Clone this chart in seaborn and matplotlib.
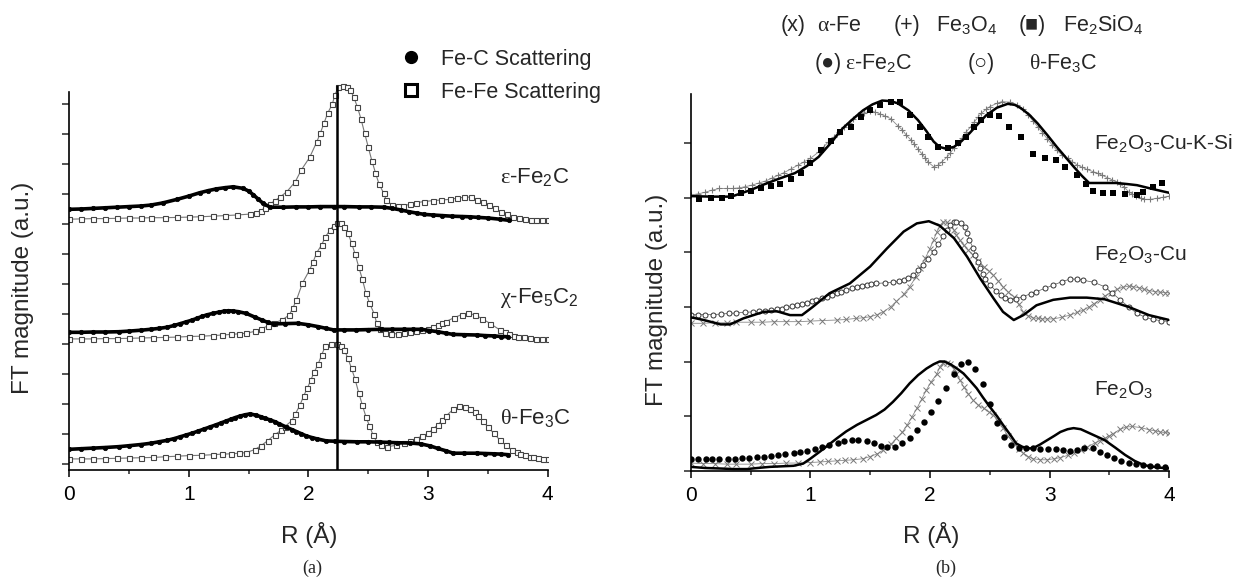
import numpy as np
import matplotlib
matplotlib.use('Agg')
import matplotlib.pyplot as plt
from matplotlib.lines import Line2D
import seaborn as sns

# ---- (a) reference carbides: (R, FT magnitude) ----
eps_fec = [(0, 8.49), (0.1, 8.5), (0.2, 8.52), (0.3, 8.54), (0.4, 8.56), (0.5, 8.58), (0.6, 8.6), (0.68, 8.63),
           (0.78, 8.7), (0.9, 8.82), (1.0, 8.93), (1.09, 9.04), (1.16, 9.11), (1.23, 9.17), (1.3, 9.21),
           (1.37, 9.24), (1.45, 9.19), (1.5, 9.1), (1.54, 8.97), (1.58, 8.83), (1.62, 8.69), (1.68, 8.56),
           (1.79, 8.56), (1.9, 8.57), (2.0, 8.57), (2.1, 8.58), (2.21, 8.58), (2.3, 8.58), (2.42, 8.57),
           (2.52, 8.57), (2.63, 8.56), (2.7, 8.52), (2.77, 8.47), (2.84, 8.41), (2.91, 8.36), (2.97, 8.32),
           (3.04, 8.3), (3.12, 8.28), (3.2, 8.26), (3.28, 8.25), (3.35, 8.24), (3.42, 8.22), (3.5, 8.2),
           (3.6, 8.16), (3.68, 8.12)]
eps_fefe = [(0, 8.16), (0.1, 8.17), (0.2, 8.18), (0.3, 8.18), (0.4, 8.19), (0.5, 8.2), (0.6, 8.2), (0.68, 8.21),
            (0.8, 8.21), (0.9, 8.22), (1.0, 8.23), (1.09, 8.24), (1.2, 8.26), (1.3, 8.28), (1.4, 8.3),
            (1.51, 8.33), (1.56, 8.38), (1.6, 8.44), (1.64, 8.55), (1.68, 8.67), (1.72, 8.78), (1.76, 8.89),
            (1.82, 9.08), (1.89, 9.41), (1.94, 9.8), (2.01, 10.22), (2.07, 10.74), (2.1, 11.04), (2.13, 11.36),
            (2.16, 11.69), (2.2, 12.0), (2.22, 12.3), (2.25, 12.56), (2.29, 12.6), (2.32, 12.56), (2.35, 12.47),
            (2.38, 12.22), (2.41, 11.89), (2.44, 11.49), (2.47, 11.02), (2.5, 10.56), (2.53, 10.11),
            (2.56, 9.71), (2.59, 9.33), (2.63, 9.02), (2.65, 8.8), (2.7, 8.63), (2.75, 8.61), (2.79, 8.6),
            (2.85, 8.66), (2.9, 8.71), (2.97, 8.75), (3.04, 8.78), (3.11, 8.8), (3.18, 8.82), (3.24, 8.86),
            (3.3, 8.89), (3.36, 8.9), (3.41, 8.8), (3.46, 8.72), (3.51, 8.63), (3.56, 8.52), (3.61, 8.41),
            (3.66, 8.32), (3.71, 8.24), (3.76, 8.2), (3.81, 8.16), (3.86, 8.15), (3.9, 8.15), (3.95, 8.15),
            (4.0, 8.15)]
chi_fec = [(0, 4.39), (0.1, 4.39), (0.2, 4.4), (0.3, 4.4), (0.42, 4.41), (0.5, 4.43), (0.6, 4.46), (0.68, 4.49),
           (0.75, 4.52), (0.82, 4.56), (0.88, 4.62), (0.93, 4.68), (0.98, 4.74), (1.03, 4.8), (1.07, 4.86),
           (1.11, 4.92), (1.15, 4.97), (1.2, 5.02), (1.25, 5.06), (1.29, 5.09), (1.33, 5.11), (1.37, 5.1),
           (1.41, 5.08), (1.48, 5.02), (1.55, 4.9), (1.61, 4.8), (1.66, 4.72), (1.71, 4.67), (1.8, 4.68),
           (1.91, 4.69), (2.0, 4.64), (2.08, 4.58), (2.15, 4.52), (2.21, 4.47), (2.3, 4.47), (2.4, 4.47),
           (2.5, 4.48), (2.61, 4.49), (2.7, 4.49), (2.8, 4.49), (2.87, 4.49), (2.94, 4.49), (3.01, 4.45),
           (3.08, 4.41), (3.15, 4.36), (3.21, 4.32), (3.3, 4.31), (3.41, 4.3), (3.48, 4.28), (3.55, 4.27),
           (3.61, 4.25), (3.67, 4.24)]
chi_fefe = [(0, 4.17), (0.1, 4.17), (0.2, 4.17), (0.3, 4.18), (0.4, 4.18), (0.5, 4.19), (0.6, 4.2), (0.7, 4.21),
            (0.8, 4.22), (0.9, 4.23), (1.0, 4.25), (1.1, 4.26), (1.2, 4.28), (1.28, 4.3), (1.35, 4.32),
            (1.42, 4.34), (1.48, 4.36), (1.55, 4.42), (1.6, 4.5), (1.66, 4.6), (1.71, 4.7), (1.78, 4.8),
            (1.84, 4.97), (1.87, 5.2), (1.9, 5.47), (1.95, 6.03), (2.01, 6.47), (2.04, 6.75), (2.07, 7.05),
            (2.11, 7.3), (2.14, 7.56), (2.18, 7.8), (2.21, 7.95), (2.24, 8.04), (2.27, 8.03), (2.3, 7.9),
            (2.33, 7.7), (2.36, 7.37), (2.39, 7.0), (2.42, 6.57), (2.45, 6.17), (2.48, 5.7), (2.51, 5.37),
            (2.55, 5.0), (2.57, 4.7), (2.6, 4.5), (2.64, 4.38), (2.69, 4.33), (2.75, 4.35), (2.8, 4.37),
            (2.85, 4.4), (2.9, 4.43), (2.95, 4.46), (3.0, 4.5), (3.04, 4.56), (3.08, 4.62), (3.12, 4.69),
            (3.15, 4.75), (3.22, 4.88), (3.28, 4.98), (3.33, 5.03), (3.39, 4.97), (3.45, 4.85), (3.52, 4.68),
            (3.6, 4.47), (3.64, 4.4), (3.68, 4.33), (3.72, 4.28), (3.75, 4.25), (3.8, 4.22), (3.85, 4.2),
            (3.9, 4.18), (3.95, 4.17), (4.0, 4.17)]
theta_fec = [(0, 0.49), (0.1, 0.51), (0.2, 0.53), (0.3, 0.55), (0.42, 0.58), (0.5, 0.61), (0.6, 0.65),
             (0.68, 0.69), (0.75, 0.74), (0.82, 0.79), (0.88, 0.85), (0.93, 0.91), (0.98, 0.97), (1.03, 1.03),
             (1.08, 1.1), (1.13, 1.17), (1.18, 1.24), (1.23, 1.31), (1.27, 1.37), (1.31, 1.43), (1.35, 1.49),
             (1.39, 1.55), (1.43, 1.6), (1.47, 1.64), (1.51, 1.67), (1.56, 1.63), (1.6, 1.58), (1.64, 1.52),
             (1.68, 1.47), (1.72, 1.41), (1.75, 1.35), (1.81, 1.24), (1.86, 1.15), (1.9, 1.08), (1.94, 1.01),
             (1.98, 0.94), (2.03, 0.88), (2.07, 0.84), (2.15, 0.77), (2.22, 0.76), (2.3, 0.75), (2.41, 0.74),
             (2.5, 0.74), (2.6, 0.73), (2.67, 0.72), (2.74, 0.71), (2.85, 0.7), (2.94, 0.67), (3.02, 0.6),
             (3.08, 0.52), (3.15, 0.44), (3.21, 0.36), (3.3, 0.36), (3.41, 0.36), (3.48, 0.35), (3.55, 0.34),
             (3.61, 0.33), (3.67, 0.31)]
theta_fefe = [(0, 0.17), (0.1, 0.17), (0.2, 0.17), (0.3, 0.18), (0.4, 0.19), (0.5, 0.2), (0.6, 0.21),
              (0.7, 0.22), (0.8, 0.24), (0.9, 0.26), (1.0, 0.28), (1.1, 0.29), (1.2, 0.31), (1.28, 0.33),
              (1.35, 0.34), (1.42, 0.36), (1.48, 0.38), (1.55, 0.48), (1.6, 0.6), (1.66, 0.78), (1.72, 0.98),
              (1.77, 1.12), (1.8, 1.24), (1.86, 1.44), (1.89, 1.67), (1.93, 1.97), (1.96, 2.27), (1.99, 2.52),
              (2.02, 2.8), (2.05, 3.08), (2.08, 3.32), (2.11, 3.63), (2.14, 3.92), (2.19, 3.99), (2.24, 4.0),
              (2.27, 3.93), (2.3, 3.8), (2.33, 3.52), (2.36, 3.19), (2.39, 2.82), (2.42, 2.38), (2.45, 1.97),
              (2.48, 1.58), (2.51, 1.27), (2.54, 0.97), (2.57, 0.74), (2.61, 0.64), (2.66, 0.58), (2.73, 0.62),
              (2.8, 0.7), (2.85, 0.77), (2.9, 0.85), (2.95, 0.93), (3.0, 1.02), (3.04, 1.16), (3.08, 1.3),
              (3.12, 1.46), (3.15, 1.6), (3.21, 1.82), (3.26, 1.93), (3.31, 1.9), (3.35, 1.85), (3.39, 1.72),
              (3.42, 1.6), (3.46, 1.42), (3.5, 1.24), (3.55, 1.02), (3.6, 0.8), (3.65, 0.62), (3.7, 0.47),
              (3.74, 0.4), (3.77, 0.35), (3.81, 0.3), (3.85, 0.25), (3.88, 0.22), (3.92, 0.2), (3.96, 0.18),
              (4.0, 0.16)]
fe_fe_marker_r = 2.24
labels_a = [(r'$\varepsilon$-Fe$_2$C', 9.57), (r'$\chi$-Fe$_5$C$_2$', 5.53), (r'$\theta$-Fe$_3$C', 1.53)]

# ---- (b) catalysts (solid) vs references (markers) ----
kcusi_line = [(0, 5.03), (0.17, 5.02), (0.34, 5.02), (0.5, 5.14), (0.62, 5.25), (0.74, 5.35), (0.87, 5.45),
              (0.97, 5.58), (1.07, 5.75), (1.17, 6.0), (1.27, 6.27), (1.36, 6.45), (1.44, 6.6), (1.52, 6.71),
              (1.6, 6.78), (1.67, 6.77), (1.73, 6.73), (1.82, 6.6), (1.9, 6.42), (1.97, 6.22), (2.03, 6.03),
              (2.08, 5.93), (2.13, 5.9), (2.2, 5.93), (2.26, 6.03), (2.33, 6.18), (2.4, 6.35), (2.47, 6.51),
              (2.56, 6.65), (2.65, 6.72), (2.71, 6.7), (2.76, 6.64), (2.83, 6.52), (2.9, 6.36), (2.98, 6.15),
              (3.06, 5.93), (3.13, 5.75), (3.2, 5.57), (3.27, 5.4), (3.33, 5.27), (3.45, 5.27), (3.56, 5.27),
              (3.65, 5.25), (3.73, 5.23), (3.86, 5.16), (4.0, 5.09)]
fe3o4_top = [(0, 5.05), (0.06, 5.07), (0.12, 5.1), (0.18, 5.14), (0.24, 5.17), (0.3, 5.17), (0.35, 5.17),
             (0.4, 5.18), (0.45, 5.2), (0.51, 5.23), (0.57, 5.27), (0.63, 5.31), (0.68, 5.36), (0.73, 5.41),
             (0.78, 5.46), (0.84, 5.53), (0.9, 5.6), (0.95, 5.66), (1.0, 5.72), (1.07, 5.84), (1.11, 5.93),
             (1.15, 6.02), (1.2, 6.12), (1.24, 6.21), (1.28, 6.29), (1.32, 6.37), (1.36, 6.44), (1.4, 6.51),
             (1.45, 6.56), (1.5, 6.58), (1.54, 6.57), (1.58, 6.54), (1.62, 6.5), (1.67, 6.45), (1.73, 6.32),
             (1.77, 6.24), (1.8, 6.15), (1.84, 6.06), (1.87, 5.98), (1.9, 5.89), (1.93, 5.81), (1.96, 5.73),
             (1.98, 5.66), (2.03, 5.57), (2.07, 5.6), (2.1, 5.66), (2.14, 5.74), (2.17, 5.82), (2.2, 5.91),
             (2.23, 6.0), (2.27, 6.1), (2.3, 6.2), (2.34, 6.3), (2.37, 6.39), (2.4, 6.47), (2.43, 6.55),
             (2.47, 6.62), (2.5, 6.67), (2.56, 6.73), (2.6, 6.76), (2.67, 6.75), (2.73, 6.7), (2.78, 6.62),
             (2.82, 6.52), (2.86, 6.41), (2.9, 6.3), (2.94, 6.19), (2.98, 6.08), (3.02, 5.97), (3.06, 5.87),
             (3.1, 5.79), (3.15, 5.72), (3.19, 5.66), (3.23, 5.6), (3.27, 5.56), (3.31, 5.52), (3.36, 5.48),
             (3.4, 5.45), (3.44, 5.41), (3.48, 5.37), (3.52, 5.33), (3.56, 5.29), (3.59, 5.25), (3.62, 5.2),
             (3.66, 5.11), (3.69, 5.07), (3.72, 5.03), (3.76, 5.0), (3.79, 4.97), (3.84, 4.97), (3.9, 4.99),
             (3.95, 5.01), (4.0, 5.03)]
fe2sio4_top = [(0.07, 4.98), (0.17, 4.99), (0.26, 5.0), (0.34, 5.03), (0.42, 5.09), (0.5, 5.13), (0.59, 5.17),
               (0.67, 5.22), (0.75, 5.26), (0.84, 5.34), (0.92, 5.46), (1.0, 5.63), (1.09, 5.87), (1.17, 6.04),
               (1.25, 6.21), (1.34, 6.3), (1.42, 6.48), (1.5, 6.6), (1.58, 6.7), (1.67, 6.76), (1.75, 6.75),
               (1.83, 6.51), (1.92, 6.29), (1.98, 6.12), (2.07, 5.93), (2.15, 5.92), (2.23, 6.0), (2.3, 6.12),
               (2.37, 6.3), (2.43, 6.42), (2.5, 6.51), (2.58, 6.5), (2.66, 6.3), (2.76, 6.12), (2.86, 5.81),
               (2.96, 5.72), (3.05, 5.7), (3.13, 5.57), (3.23, 5.42), (3.3, 5.26), (3.36, 5.13), (3.45, 5.08),
               (3.53, 5.08), (3.63, 5.07), (3.73, 5.05), (3.78, 5.11), (3.86, 5.2), (3.94, 5.27)]
cu_line = [(0, 2.81), (0.11, 2.76), (0.25, 2.68), (0.33, 2.68), (0.44, 2.79), (0.61, 2.91), (0.72, 2.92),
           (0.83, 2.85), (0.93, 2.85), (1.02, 3.0), (1.16, 3.25), (1.33, 3.43), (1.5, 3.74), (1.64, 4.07),
           (1.78, 4.38), (1.89, 4.53), (1.99, 4.57), (2.08, 4.49), (2.2, 4.26), (2.31, 3.92), (2.42, 3.52),
           (2.53, 3.16), (2.61, 2.91), (2.7, 2.76), (2.78, 2.85), (2.89, 3.03), (3.03, 3.13), (3.17, 3.17),
           (3.31, 3.17), (3.46, 3.14), (3.66, 3.0), (3.83, 2.85), (4.0, 2.76)]
theta_mid = [(0, 2.86), (0.06, 2.86), (0.12, 2.86), (0.19, 2.86), (0.25, 2.87), (0.32, 2.88), (0.38, 2.89),
             (0.45, 2.9), (0.52, 2.91), (0.57, 2.92), (0.62, 2.93), (0.67, 2.94), (0.72, 2.96), (0.76, 2.97),
             (0.8, 2.99), (0.85, 3.01), (0.89, 3.03), (0.93, 3.05), (0.97, 3.08), (1.01, 3.1), (1.05, 3.13),
             (1.1, 3.16), (1.14, 3.19), (1.18, 3.22), (1.22, 3.25), (1.26, 3.28), (1.3, 3.31), (1.35, 3.34),
             (1.39, 3.37), (1.43, 3.39), (1.47, 3.41), (1.51, 3.42), (1.55, 3.43), (1.62, 3.44), (1.69, 3.45),
             (1.74, 3.47), (1.78, 3.49), (1.82, 3.53), (1.86, 3.58), (1.9, 3.67), (1.94, 3.77), (1.98, 3.88),
             (2.03, 4.01), (2.07, 4.15), (2.11, 4.29), (2.14, 4.4), (2.17, 4.5), (2.2, 4.55), (2.22, 4.56),
             (2.26, 4.53), (2.29, 4.47), (2.31, 4.35), (2.33, 4.22), (2.36, 4.08), (2.38, 3.95), (2.4, 3.83),
             (2.42, 3.71), (2.44, 3.61), (2.46, 3.52), (2.5, 3.4), (2.55, 3.3), (2.59, 3.22), (2.63, 3.17),
             (2.67, 3.13), (2.72, 3.15), (2.78, 3.19), (2.84, 3.24), (2.89, 3.28), (2.96, 3.34), (3.03, 3.4),
             (3.1, 3.46), (3.17, 3.51), (3.23, 3.51), (3.28, 3.49), (3.37, 3.45), (3.46, 3.37), (3.52, 3.26),
             (3.59, 3.13), (3.66, 3.0), (3.73, 2.88), (3.8, 2.81), (3.86, 2.77), (3.93, 2.75), (4.0, 2.73)]
alpha_mid = [(0, 2.7), (0.1, 2.7), (0.2, 2.71), (0.3, 2.71), (0.38, 2.72), (0.5, 2.72), (0.6, 2.72),
             (0.7, 2.73), (0.8, 2.73), (0.9, 2.73), (1.0, 2.74), (1.1, 2.75), (1.22, 2.76), (1.3, 2.77),
             (1.38, 2.79), (1.44, 2.8), (1.5, 2.82), (1.56, 2.86), (1.61, 2.91), (1.67, 3.0), (1.72, 3.1),
             (1.78, 3.23), (1.83, 3.37), (1.88, 3.54), (1.92, 3.71), (1.96, 3.89), (2.0, 4.07), (2.03, 4.23),
             (2.06, 4.38), (2.08, 4.48), (2.11, 4.56), (2.14, 4.55), (2.17, 4.5), (2.2, 4.41), (2.22, 4.32),
             (2.25, 4.22), (2.28, 4.13), (2.32, 4.04), (2.36, 3.95), (2.4, 3.85), (2.45, 3.74), (2.49, 3.66),
             (2.53, 3.58), (2.57, 3.48), (2.61, 3.37), (2.65, 3.28), (2.7, 3.19), (2.74, 3.05), (2.78, 2.91),
             (2.82, 2.84), (2.86, 2.8), (2.9, 2.79), (2.94, 2.78), (2.98, 2.78), (3.03, 2.78), (3.1, 2.81),
             (3.17, 2.85), (3.23, 2.9), (3.28, 2.94), (3.33, 3.0), (3.37, 3.06), (3.42, 3.13), (3.46, 3.2),
             (3.51, 3.26), (3.56, 3.32), (3.61, 3.36), (3.66, 3.38), (3.7, 3.37), (3.75, 3.35), (3.79, 3.32),
             (3.83, 3.3), (3.88, 3.28), (3.92, 3.27), (3.96, 3.26), (4.0, 3.26)]
fe2o3_line = [(0, 0.07), (0.12, 0.05), (0.25, 0.04), (0.36, 0.03), (0.47, 0.03), (0.56, 0.05), (0.66, 0.07),
              (0.76, 0.08), (0.86, 0.09), (0.94, 0.13), (1.0, 0.22), (1.08, 0.35), (1.15, 0.47), (1.22, 0.59),
              (1.3, 0.72), (1.39, 0.84), (1.47, 0.93), (1.55, 1.02), (1.62, 1.12), (1.69, 1.26), (1.76, 1.42),
              (1.83, 1.6), (1.9, 1.75), (1.97, 1.87), (2.03, 1.95), (2.08, 2.0), (2.12, 2.0), (2.17, 1.95),
              (2.22, 1.88), (2.28, 1.78), (2.33, 1.66), (2.39, 1.51), (2.44, 1.35), (2.5, 1.17), (2.56, 1.0),
              (2.61, 0.84), (2.67, 0.66), (2.72, 0.5), (2.77, 0.44), (2.81, 0.41), (2.86, 0.41), (2.92, 0.48),
              (2.98, 0.56), (3.04, 0.64), (3.09, 0.71), (3.15, 0.76), (3.2, 0.78), (3.26, 0.76), (3.31, 0.71),
              (3.38, 0.64), (3.46, 0.56), (3.55, 0.42), (3.63, 0.29), (3.71, 0.18), (3.79, 0.1), (3.9, 0.06),
              (4.0, 0.04)]
eps_bot = [(0, 0.21), (0.06, 0.21), (0.13, 0.21), (0.18, 0.21), (0.24, 0.22), (0.31, 0.22), (0.37, 0.22),
           (0.43, 0.23), (0.49, 0.24), (0.55, 0.26), (0.61, 0.26), (0.67, 0.27), (0.73, 0.29), (0.79, 0.31),
           (0.86, 0.33), (0.91, 0.35), (0.97, 0.37), (1.04, 0.4), (1.1, 0.44), (1.16, 0.47), (1.23, 0.51),
           (1.28, 0.55), (1.35, 0.56), (1.4, 0.57), (1.47, 0.55), (1.53, 0.51), (1.59, 0.45), (1.64, 0.43),
           (1.71, 0.43), (1.77, 0.5), (1.83, 0.59), (1.89, 0.74), (1.95, 0.9), (2.01, 1.07), (2.07, 1.28),
           (2.13, 1.52), (2.2, 1.77), (2.26, 1.95), (2.32, 2.0), (2.38, 1.86), (2.44, 1.58), (2.5, 1.22),
           (2.56, 0.88), (2.62, 0.62), (2.68, 0.47), (2.74, 0.41), (2.8, 0.41), (2.86, 0.41), (2.92, 0.4),
           (2.99, 0.4), (3.05, 0.39), (3.11, 0.38), (3.17, 0.36), (3.23, 0.38), (3.29, 0.41), (3.36, 0.41),
           (3.42, 0.35), (3.48, 0.29), (3.54, 0.23), (3.6, 0.18), (3.66, 0.15), (3.72, 0.12), (3.78, 0.1),
           (3.84, 0.09), (3.9, 0.08), (3.96, 0.07)]
alpha_bot = [(0, 0.14), (0.1, 0.13), (0.2, 0.13), (0.3, 0.12), (0.38, 0.12), (0.5, 0.12), (0.6, 0.13),
             (0.7, 0.13), (0.8, 0.14), (0.9, 0.14), (1.0, 0.15), (1.08, 0.16), (1.15, 0.17), (1.22, 0.18),
             (1.29, 0.19), (1.36, 0.2), (1.44, 0.22), (1.5, 0.26), (1.56, 0.31), (1.61, 0.38), (1.67, 0.48),
             (1.72, 0.59), (1.77, 0.71), (1.81, 0.84), (1.85, 0.99), (1.89, 1.14), (1.93, 1.31), (1.97, 1.48),
             (2.01, 1.63), (2.06, 1.78), (2.08, 1.9), (2.11, 1.98), (2.14, 1.98), (2.17, 1.95), (2.2, 1.87),
             (2.22, 1.78), (2.25, 1.66), (2.28, 1.54), (2.32, 1.41), (2.36, 1.29), (2.4, 1.21), (2.45, 1.14),
             (2.49, 1.08), (2.53, 1.02), (2.57, 0.91), (2.61, 0.78), (2.65, 0.64), (2.7, 0.5), (2.74, 0.4),
             (2.78, 0.32), (2.82, 0.26), (2.86, 0.22), (2.92, 0.2), (2.98, 0.2), (3.04, 0.22), (3.09, 0.24),
             (3.15, 0.28), (3.2, 0.33), (3.26, 0.38), (3.31, 0.43), (3.38, 0.51), (3.42, 0.55), (3.46, 0.59),
             (3.5, 0.64), (3.53, 0.68), (3.59, 0.76), (3.64, 0.8), (3.69, 0.81), (3.76, 0.79), (3.83, 0.75),
             (3.88, 0.73), (3.92, 0.71), (3.96, 0.7), (4.0, 0.69)]
labels_b = [('Fe$_2$O$_3$-Cu-K-Si', 6.0), ('Fe$_2$O$_3$-Cu', 3.96), ('Fe$_2$O$_3$', 1.48)]

sns.set_theme(style='ticks')
plt.rcParams['font.family'] = ['Liberation Sans', 'DejaVu Sans']
plt.rcParams['mathtext.fontset'] = 'custom'
plt.rcParams['mathtext.rm'] = 'Liberation Sans'
plt.rcParams['mathtext.it'] = 'Liberation Serif'
plt.rcParams['axes.linewidth'] = 1.2
plt.rcParams['axes.edgecolor'] = 'black'

W, H = 1239, 577
fig = plt.figure(figsize=(W / 100, H / 100), dpi=100)
ax_a = fig.add_axes([69.2 / W, 1 - 469.5 / H, 478.5 / W, 388 / H])
ax_b = fig.add_axes([690.7 / W, 1 - 470.7 / H, 478.6 / W, 376.7 / H])


def curve(ax, pts, **kw):
    arr = np.array(pts)
    sns.lineplot(x=arr[:, 0], y=arr[:, 1], ax=ax, estimator=None, sort=False, **kw)


# panel (a)
for fec, fefe in [(eps_fec, eps_fefe), (chi_fec, chi_fefe), (theta_fec, theta_fefe)]:
    curve(ax_a, fefe, color='#777777', lw=0.8, marker='s', ms=3.6, mfc='white', mec='#444444', mew=0.8)
    curve(ax_a, fec, color='black', lw=2.6, marker='o', ms=3.2, mfc='black', mec='black', mew=0.5)
ax_a.vlines(fe_fe_marker_r, -0.183, 12.63, color='black', lw=1.8)
for txt, yv in labels_a:
    ax_a.text(3.6, yv, txt, fontsize=16, va='center', ha='left')

ax_a.set_xlim(0, 4)
ax_a.set_ylim(-0.183, 12.75)
ax_a.set_yticks(np.arange(0, 13))
ax_a.spines['left'].set_bounds(-0.183, 12.4)

handles = [Line2D([], [], ls='none', marker='o', ms=8.5, mfc='black', mec='black'),
           Line2D([], [], ls='none', marker='s', ms=8, mfc='white', mec='black', mew=2.2)]
ax_a.legend(handles, ['Fe-C Scattering', 'Fe-Fe Scattering'], loc='upper left',
            bbox_to_anchor=(398 / W, 1 - 49 / H), bbox_transform=fig.transFigure, frameon=False,
            fontsize=15.5, handlelength=1.2, handletextpad=0.8, labelspacing=0.55,
            borderaxespad=0, borderpad=0)

# panel (b)
curve(ax_b, fe3o4_top, color='#8a8a8a', lw=0.6, marker='+', ms=5, mec='#7a7a7a', mew=0.8)
curve(ax_b, fe2sio4_top, color='black', ls='none', marker='s', ms=4.6, mfc='black', mec='black', mew=0)
curve(ax_b, kcusi_line, color='black', lw=1.8)
curve(ax_b, alpha_mid, color='#8a8a8a', lw=0.6, marker='x', ms=4, mec='#7a7a7a', mew=0.7)
curve(ax_b, theta_mid, color='#555555', lw=0.5, marker='o', ms=3.6, mfc='white', mec='#333333', mew=0.7)
curve(ax_b, cu_line, color='black', lw=1.8)
curve(ax_b, alpha_bot, color='#8a8a8a', lw=0.6, marker='x', ms=4, mec='#7a7a7a', mew=0.7)
curve(ax_b, eps_bot, color='black', ls='none', marker='o', ms=4.6, mfc='black', mec='black', mew=0)
curve(ax_b, fe2o3_line, color='black', lw=1.8)
for txt, yv in labels_b:
    ax_b.text(3.37, yv, txt, fontsize=15, va='center', ha='left')
ax_b.set_xlim(0, 4)
ax_b.set_ylim(0, 6.9)
ax_b.set_yticks(np.arange(0, 7))

for ax in (ax_a, ax_b):
    sns.despine(ax=ax)
    ax.set_xticks([0, 1, 2, 3, 4])
    ax.set_xticks(np.arange(0.5, 4, 1), minor=True)
    ax.set_yticklabels([])
    ax.tick_params(axis='x', which='major', length=5, width=1.1, labelsize=15, pad=6, colors='black')
    ax.tick_params(axis='x', which='minor', length=3, width=1.1, bottom=True)
    ax.tick_params(axis='y', which='major', length=5, width=1.1, left=True)
    ax.set_xlabel('')
    ax.set_ylabel('')

# axis titles and panel letters
fig.text(23 / W, 1 - 288 / H, 'FT magnitude (a.u.)', rotation=90, ha='center', va='center', fontsize=17.5)
fig.text(657 / W, 1 - 300 / H, 'FT magnitude (a.u.)', rotation=90, ha='center', va='center', fontsize=17.5)
fig.text(309 / W, 1 - 535 / H, 'R (Å)', ha='center', va='center', fontsize=17.5)
fig.text(931 / W, 1 - 535 / H, 'R (Å)', ha='center', va='center', fontsize=17.5)
fig.text(312 / W, 1 - 568 / H, '(a)', ha='center', va='center', fontsize=13, family='Liberation Serif')
fig.text(946 / W, 1 - 568 / H, '(b)', ha='center', va='center', fontsize=13, family='Liberation Serif')

# reference key for panel (b)
key_row1 = [(781, '(x)'), (817, r'$\alpha$-Fe'), (894, '(+)'), (936, 'Fe$_3$O$_4$'),
            (1019, '(■)'), (1063, 'Fe$_2$SiO$_4$')]
key_row2 = [(815, '(●)'), (845, r'$\varepsilon$-Fe$_2$C'), (968, '(○)'), (1029, r'$\theta$-Fe$_3$C')]
for row, base in [(key_row1, 31), (key_row2, 69)]:
    for xp, txt in row:
        fig.text(xp / W, 1 - base / H, txt, ha='left', va='baseline', fontsize=15.5)

fig.savefig('out.png', dpi=100)
